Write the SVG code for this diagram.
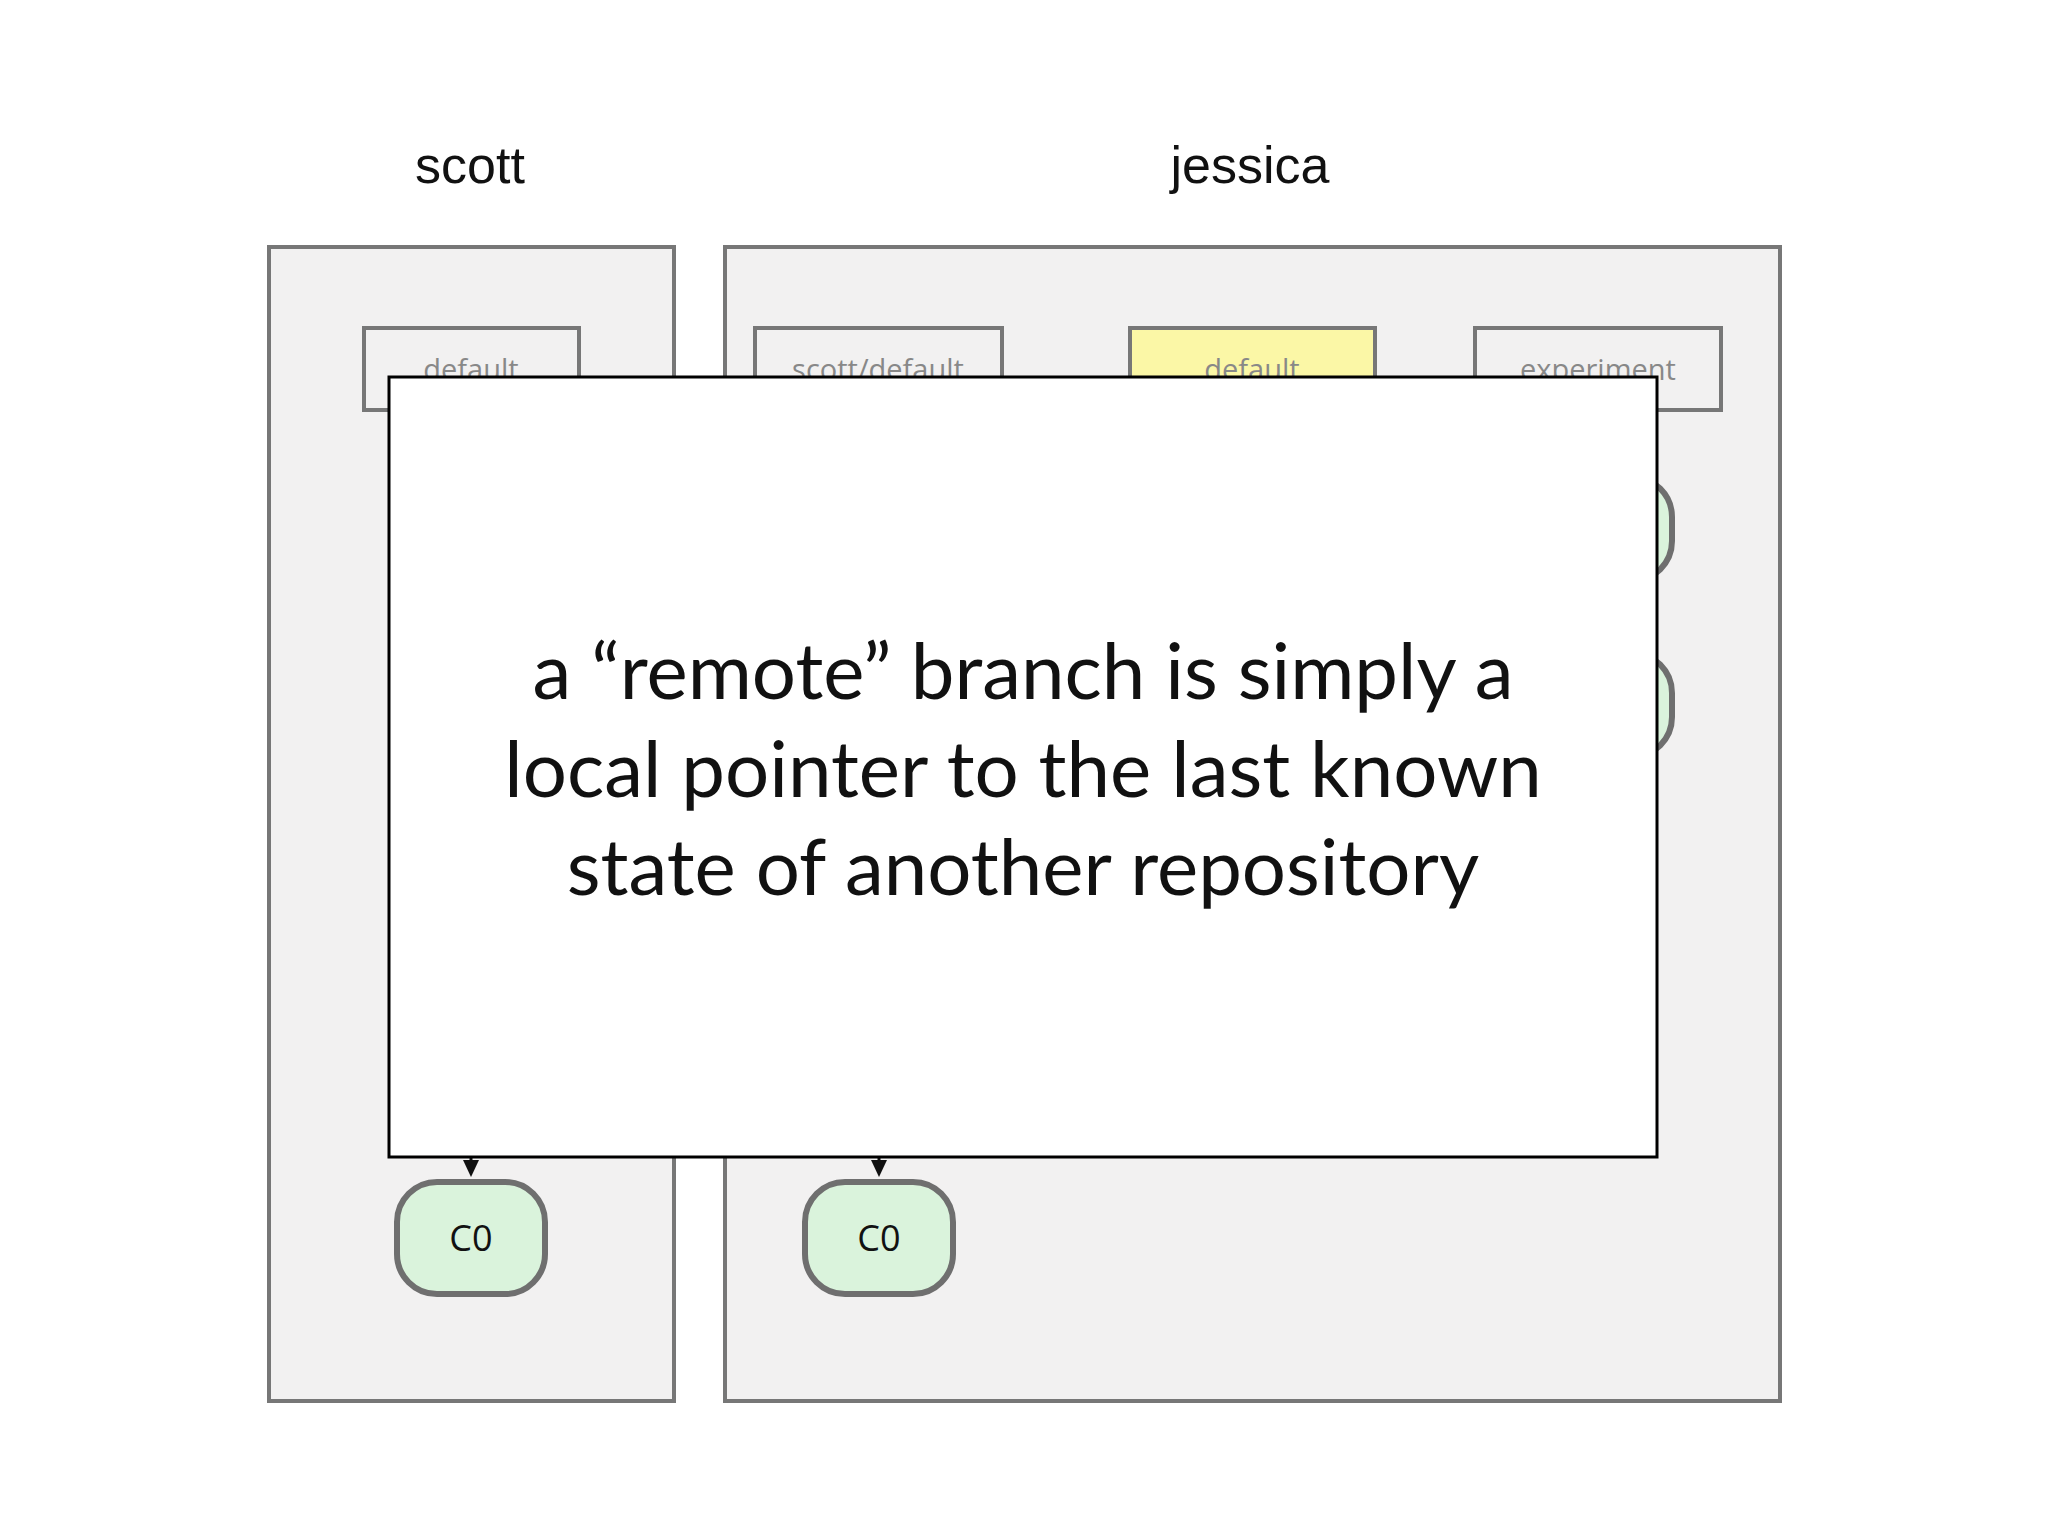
<svg xmlns="http://www.w3.org/2000/svg" width="2048" height="1536" viewBox="0 0 2048 1536">
<style>
.repo{fill:#f2f1f1;stroke:#777;stroke-width:4}
.br{fill:#f2f1f1;stroke:#777;stroke-width:4}
.brt{font-family:"Open Sans",sans-serif;font-size:29px;fill:#888;text-anchor:middle}
.cm{fill:#daf3dc;stroke:#6f6f6f;stroke-width:6}
.ct{font-family:"Open Sans",sans-serif;font-size:36px;fill:#111;text-anchor:middle}
.lbl{font-family:"Liberation Sans",Arial,sans-serif;font-size:52px;fill:#111;text-anchor:middle}
.big{font-family:"Lato","Open Sans",sans-serif;font-size:78px;fill:#111;text-anchor:middle}
</style>
<rect width="2048" height="1536" fill="#fff"/>
<text class="lbl" x="470" y="183">scott</text>
<text class="lbl" x="1250" y="183">jessica</text>
<g id="scott"><rect class="repo" x="269" y="247" width="405" height="1154"/></g>
<g id="jessica"><rect class="repo" x="725" y="247" width="1055" height="1154"/></g>
<g id="b-scott-default"><rect class="br" x="364" y="328" width="215" height="82"/><text class="brt" x="471" y="380">default</text></g>
<g id="b-scott-remote"><rect class="br" x="755" y="328" width="247" height="82"/><text class="brt" x="878" y="380">scott/default</text></g>
<g id="b-jessica-default"><rect class="br" x="1130" y="328" width="245" height="82" fill="#fbf7a6" style="fill:#fbf7a6"/><text class="brt" x="1252" y="380">default</text></g>
<g id="b-experiment"><rect class="br" x="1475" y="328" width="246" height="82"/><text class="brt" x="1598" y="380">experiment</text></g>
<g id="c-hidden1"><rect class="cm" x="1524" y="477" width="148" height="104" rx="40"/></g>
<g id="c-hidden2"><rect class="cm" x="1524" y="653" width="148" height="104" rx="40"/></g>
<g id="connectors">
<line x1="471" y1="1150" x2="471" y2="1165" stroke="#111" stroke-width="3"/>
<polygon points="463,1160 479,1160 471,1177" fill="#111"/>
<line x1="879" y1="1150" x2="879" y2="1165" stroke="#111" stroke-width="3"/>
<polygon points="871,1160 887,1160 879,1177" fill="#111"/>
</g>
<g id="c0-scott"><rect class="cm" x="397" y="1182" width="148" height="112" rx="40"/><text class="ct" x="471" y="1251">C0</text></g>
<g id="c0-jessica"><rect class="cm" x="805" y="1182" width="148" height="112" rx="40"/><text class="ct" x="879" y="1251">C0</text></g>
<g id="overlay"><rect x="389" y="377" width="1268" height="780" fill="#fff" stroke="#000" stroke-width="3"/>
<text class="big" x="1023" y="699">a “remote” branch is simply a</text>
<text class="big" x="1023" y="797">local pointer to the last known</text>
<text class="big" x="1023" y="895">state of another repository</text></g>
</svg>
